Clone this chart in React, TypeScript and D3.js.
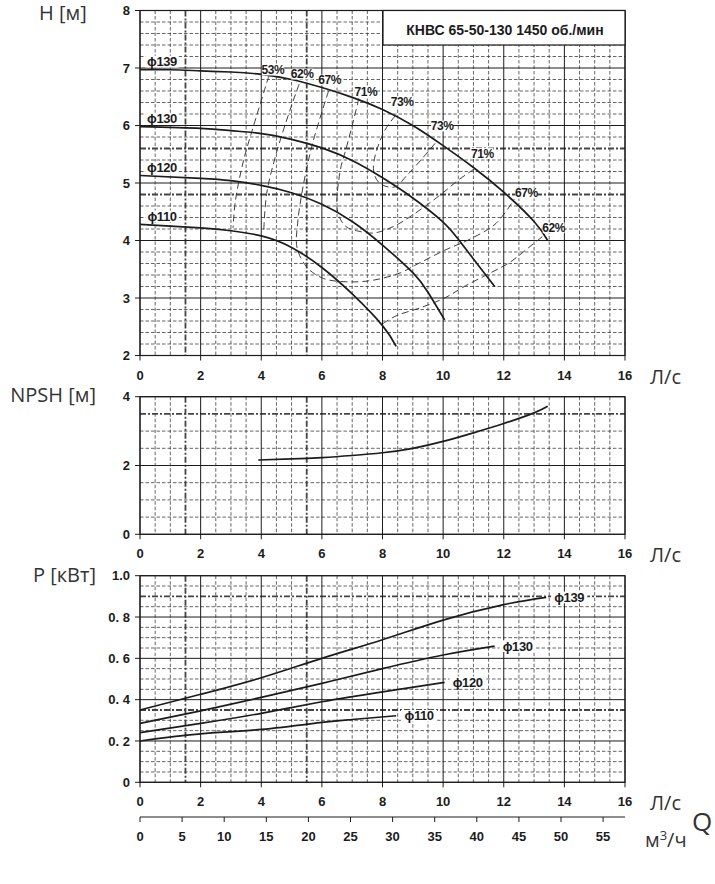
import * as d3 from 'd3'

type Pt = [number, number]

// flow axis (л/с) and second flow axis (м³/ч)
const flowTicks = [0, 2, 4, 6, 8, 10, 12, 14, 16]
const m3hTicks = [0, 5, 10, 15, 20, 25, 30, 35, 40, 45, 50, 55]

const headTicks = [2, 3, 4, 5, 6, 7, 8]
const npshTicks = [0, 2, 4]
const powerTicks = [0, 0.2, 0.4, 0.6, 0.8, 1.0]
const powerTickLabels = ['0', '0. 2', '0. 4', '0. 6', '0. 8', '1.0']

// duty point guide lines
const designFlows = [1.5, 5.5]
const designHeads = [4.8, 5.6]
const designNpsh = [3.5]
const designPowers = [0.35, 0.9]

const diameters = ['ϕ139', 'ϕ130', 'ϕ120', 'ϕ110']

// H(Q) per impeller diameter
const head139: Pt[] = [[0, 6.97], [1, 6.97], [2, 6.95], [3, 6.93], [4, 6.89], [5, 6.8], [6, 6.66], [7, 6.49], [8, 6.28], [9, 6.0], [10, 5.65], [11, 5.27], [12, 4.84], [13, 4.33], [13.45, 4.0]]
const head130: Pt[] = [[0, 5.98], [2, 5.95], [3, 5.91], [4, 5.86], [5, 5.76], [6, 5.61], [7, 5.39], [8, 5.09], [9, 4.74], [10, 4.32], [10.5, 4.02], [11, 3.68], [11.7, 3.2]]
const head120: Pt[] = [[0, 5.13], [2, 5.08], [3, 5.04], [4, 4.96], [5, 4.83], [6, 4.63], [7, 4.33], [8, 3.92], [9, 3.44], [9.5, 3.1], [10.05, 2.62]]
const head110: Pt[] = [[0, 4.28], [2, 4.22], [3, 4.17], [4, 4.08], [5, 3.88], [6, 3.53], [7, 3.07], [8, 2.52], [8.45, 2.16]]
const headCurves = [head139, head130, head120, head110]

// iso-efficiency lines
const eff53: Pt[] = [[4.25, 6.86], [3.75, 6.0], [3.42, 5.4], [3.15, 4.7], [3.07, 4.22]]
const eff62a: Pt[] = [[5.25, 6.72], [4.95, 6.27], [4.5, 5.52], [4.18, 4.82], [4.08, 4.14]]
const eff62b: Pt[] = [[8.0, 2.55], [8.45, 2.69], [9.25, 2.83], [10.05, 3.0], [10.73, 3.21], [11.5, 3.42], [12.2, 3.62], [12.9, 3.91], [13.35, 4.1]]
const eff67: Pt[] = [[6.22, 6.6], [5.7, 5.7], [5.38, 4.94], [5.2, 4.3], [5.18, 3.88], [5.5, 3.54], [6.05, 3.34], [6.9, 3.28], [7.7, 3.31], [8.6, 3.44], [9.15, 3.59], [10.05, 3.83], [10.95, 4.04], [11.75, 4.3], [12.35, 4.72]]
const eff71: Pt[] = [[7.22, 6.47], [7.0, 6.0], [6.8, 5.6], [6.6, 5.2], [6.52, 4.5], [6.8, 4.24], [7.15, 4.17], [7.7, 4.13], [8.35, 4.24], [8.9, 4.41], [9.9, 4.79], [10.5, 5.05], [11.1, 5.27]]
const eff73: Pt[] = [[8.42, 6.17], [8.02, 5.86], [7.7, 5.25], [7.9, 5.0], [8.4, 4.93], [8.8, 5.13], [9.3, 5.42], [9.8, 5.73]]

const npsh: Pt[] = [[3.9, 2.16], [5, 2.19], [6, 2.23], [7, 2.29], [8, 2.37], [9, 2.5], [10, 2.7], [11, 2.95], [12, 3.22], [13, 3.53], [13.45, 3.72]]

const power139: Pt[] = [[0, 0.35], [2, 0.426], [4, 0.506], [6, 0.6], [8, 0.69], [10, 0.785], [12, 0.86], [13.4, 0.895]]
const power130: Pt[] = [[0, 0.285], [2, 0.346], [4, 0.411], [6, 0.479], [8, 0.55], [10, 0.616], [11.7, 0.659]]
const power120: Pt[] = [[0, 0.24], [2, 0.285], [4, 0.334], [6, 0.39], [8, 0.438], [10.05, 0.484]]
const power110: Pt[] = [[0, 0.2], [2, 0.234], [4, 0.256], [6, 0.29], [7, 0.304], [8.45, 0.322]]
const powerCurves = [power139, power130, power120, power110]

const x = d3.scaleLinear().domain([0, 16]).range([140, 625])
const yH = d3.scaleLinear().domain([2, 8]).range([355.5, 10.5])
const yN = d3.scaleLinear().domain([0, 4]).range([534.3, 396.7])
const yP = d3.scaleLinear().domain([0, 1]).range([782.3, 575.7])

const tickFont = "'Liberation Sans', Arial, sans-serif"
const titleFont = "'Open Sans', 'Noto Sans', sans-serif"
const ink = '#1c1c1c'

const near = (a: number, b: number) => Math.abs(a - b) < 1e-6
const isMult = (v: number, s: number) => near(v / s, Math.round(v / s))

type PanelProps = {
  y: d3.ScaleLinear<number, number>
  minor: number
  major: number
  ticks: number[]
  tickLabels?: string[]
  design: number[]
}

function Panel({ y, minor, major, ticks, tickLabels, design }: PanelProps) {
  const [y0, y1] = y.domain()
  const vs = d3.range(0, 16 + 1e-6, 0.5)
  const hs = d3.range(y0, y1 + minor / 2, minor)
  const top = y(y1)
  const bot = y(y0)
  return (
    <g>
      {/* minor grid */}
      {vs.filter((v) => !isMult(v, 2) && !designFlows.some((d) => near(d, v))).map((v) => (
        <line key={'v' + v} x1={x(v)} x2={x(v)} y1={top} y2={bot} stroke="#333" strokeWidth={0.75} strokeDasharray="3.5,2" />
      ))}
      {hs.filter((v) => !isMult(v, major) && !design.some((d) => near(d, v))).map((v) => (
        <line key={'h' + v} x1={x(0)} x2={x(16)} y1={y(v)} y2={y(v)} stroke="#333" strokeWidth={0.75} strokeDasharray="3.5,2" />
      ))}
      {/* duty point lines */}
      {designFlows.map((v) => (
        <line key={'dv' + v} x1={x(v)} x2={x(v)} y1={top} y2={bot} stroke="#444" strokeWidth={1.8} strokeDasharray="6,2,2,2" />
      ))}
      {design.map((v) => (
        <line key={'dh' + v} x1={x(0)} x2={x(16)} y1={y(v)} y2={y(v)} stroke="#444" strokeWidth={1.8} strokeDasharray="6,2,2,2" />
      ))}
      {/* major grid */}
      {flowTicks.map((v) => (
        <line key={'V' + v} x1={x(v)} x2={x(v)} y1={top} y2={bot + 5} stroke={ink} strokeWidth={1} />
      ))}
      {hs.filter((v) => isMult(v, major)).map((v) => (
        <line key={'H' + v} x1={x(0) - 5} x2={x(16)} y1={y(v)} y2={y(v)} stroke={ink} strokeWidth={1} />
      ))}
      <rect x={x(0)} y={top} width={x(16) - x(0)} height={bot - top} fill="none" stroke={ink} strokeWidth={1.2} />
      {/* tick labels */}
      {ticks.map((v, i) => (
        <text key={'yl' + v} x={130} y={y(v) + 4.7} textAnchor="end" fontFamily={tickFont} fontWeight="bold" fontSize={13} fill={ink}>
          {tickLabels ? tickLabels[i] : String(v)}
        </text>
      ))}
      {flowTicks.map((v) => (
        <text key={'xl' + v} x={x(v)} y={bot + 24} textAnchor="middle" fontFamily={tickFont} fontWeight="bold" fontSize={13} fill={ink}>
          {v}
        </text>
      ))}
      <text x={650} y={bot + 28} fontFamily={titleFont} fontSize={20} fill="#333">
        Л/с
      </text>
    </g>
  )
}

function Label({ text, cx, cy, size, pad = 1.5 }: { text: string; cx: number; cy: number; size: number; pad?: number }) {
  const w = text.length * size * 0.58
  return (
    <g>
      <rect x={cx - w / 2 - pad} y={cy - size * 0.45} width={w + pad * 2} height={size * 0.9} fill="#fff" />
      <text x={cx} y={cy + size * 0.36} textAnchor="middle" fontFamily={tickFont} fontWeight="bold" fontSize={size} fill={ink} letterSpacing={-0.4}>
        {text}
      </text>
    </g>
  )
}

export default function App() {
  const lineH = d3.line<Pt>().x((d) => x(d[0])).y((d) => yH(d[1])).curve(d3.curveNatural)
  const lineEff = d3.line<Pt>().x((d) => x(d[0])).y((d) => yH(d[1])).curve(d3.curveCatmullRom.alpha(0.5))
  const lineN = d3.line<Pt>().x((d) => x(d[0])).y((d) => yN(d[1])).curve(d3.curveNatural)
  const lineP = d3.line<Pt>().x((d) => x(d[0])).y((d) => yP(d[1])).curve(d3.curveNatural)

  const effLines = [eff53, eff62a, eff62b, eff67, eff71, eff73]
  // label: [line, which end, text, dx, dy]
  const effLabels: [Pt[], 'start' | 'end', string, number, number][] = [
    [eff53, 'start', '53%', 4, -6],
    [eff62a, 'start', '62%', 3, -10],
    [eff67, 'start', '67%', 1, -11],
    [eff71, 'start', '71%', 7, -7],
    [eff73, 'start', '73%', 7, -14],
    [eff73, 'end', '73%', 5, -15],
    [eff71, 'end', '71%', 6, -14],
    [eff67, 'end', '67%', 12, -6],
    [eff62b, 'end', '62%', 9, -7],
  ]

  const qAxisY = 817
  const toLs = (m3h: number) => m3h / 3.6

  return (
    <svg width={715} height={884} style={{ position: 'absolute', left: 0, top: 0, background: '#fff' }}>
      {/* H panel */}
      <Panel y={yH} minor={0.2} major={1} ticks={headTicks} design={designHeads} />
      {effLines.map((pts, i) => (
        <path key={'e' + i} d={lineEff(pts) ?? ''} fill="none" stroke="#2a2a2a" strokeWidth={0.9} strokeDasharray="7,4" />
      ))}
      {headCurves.map((pts, i) => (
        <path key={'hc' + i} d={lineH(pts) ?? ''} fill="none" stroke={ink} strokeWidth={1.7} />
      ))}
      {headCurves.map((pts, i) => (
        <Label key={'hd' + i} text={diameters[i]} cx={162} cy={yH(pts[0][1]) - 8} size={13} />
      ))}
      {effLabels.map(([pts, end, t, dx, dy], i) => {
        const p = end === 'start' ? pts[0] : pts[pts.length - 1]
        return <Label key={'el' + i} text={t} cx={x(p[0]) + dx} cy={yH(p[1]) + dy} size={12} pad={0.5} />
      })}
      <rect x={383} y={yH(8)} width={x(16) - 383} height={34.5} fill="#fff" stroke={ink} strokeWidth={1.2} />
      <text x={505} y={35} textAnchor="middle" fontFamily={tickFont} fontWeight="bold" fontSize={14} fill={ink}>
        КНВС 65-50-130 1450 об./мин
      </text>

      {/* NPSH panel */}
      <Panel y={yN} minor={0.5} major={2} ticks={npshTicks} design={designNpsh} />
      <path d={lineN(npsh) ?? ''} fill="none" stroke={ink} strokeWidth={1.7} />

      {/* Power panel */}
      <Panel y={yP} minor={0.05} major={0.2} ticks={powerTicks} tickLabels={powerTickLabels} design={designPowers} />
      {powerCurves.map((pts, i) => (
        <path key={'pc' + i} d={lineP(pts) ?? ''} fill="none" stroke={ink} strokeWidth={1.7} />
      ))}
      {powerCurves.map((pts, i) => {
        const p = pts[pts.length - 1]
        return <Label key={'pl' + i} text={diameters[i]} cx={x(p[0]) + 23} cy={yP(p[1])} size={13} pad={3} />
      })}

      {/* m³/h axis */}
      <line x1={x(0)} x2={x(16)} y1={qAxisY} y2={qAxisY} stroke={ink} strokeWidth={1.2} />
      {m3hTicks.map((v) => (
        <g key={'q' + v}>
          <line x1={x(toLs(v))} x2={x(toLs(v))} y1={qAxisY} y2={qAxisY + 5} stroke={ink} strokeWidth={1} />
          <text x={x(toLs(v))} y={qAxisY + 23.5} textAnchor="middle" fontFamily={tickFont} fontWeight="bold" fontSize={13} fill={ink}>
            {v}
          </text>
        </g>
      ))}

      {/* axis titles */}
      <text x={39} y={20} fontFamily={titleFont} fontSize={20} fill="#333">H [м]</text>
      <text x={96} y={402} textAnchor="end" fontFamily={titleFont} fontSize={20} fill="#333">NPSH [м]</text>
      <text x={33} y={582} fontFamily={titleFont} fontSize={20} fill="#333">P [кВт]</text>
      <text x={645} y={847} fontFamily={titleFont} fontSize={20} fill="#333">
        м<tspan dy={-7} fontSize={13}>3</tspan><tspan dy={7}>/ч</tspan>
      </text>
      <text x={692} y={831} fontFamily={titleFont} fontSize={26} fill="#333">Q</text>
    </svg>
  )
}
